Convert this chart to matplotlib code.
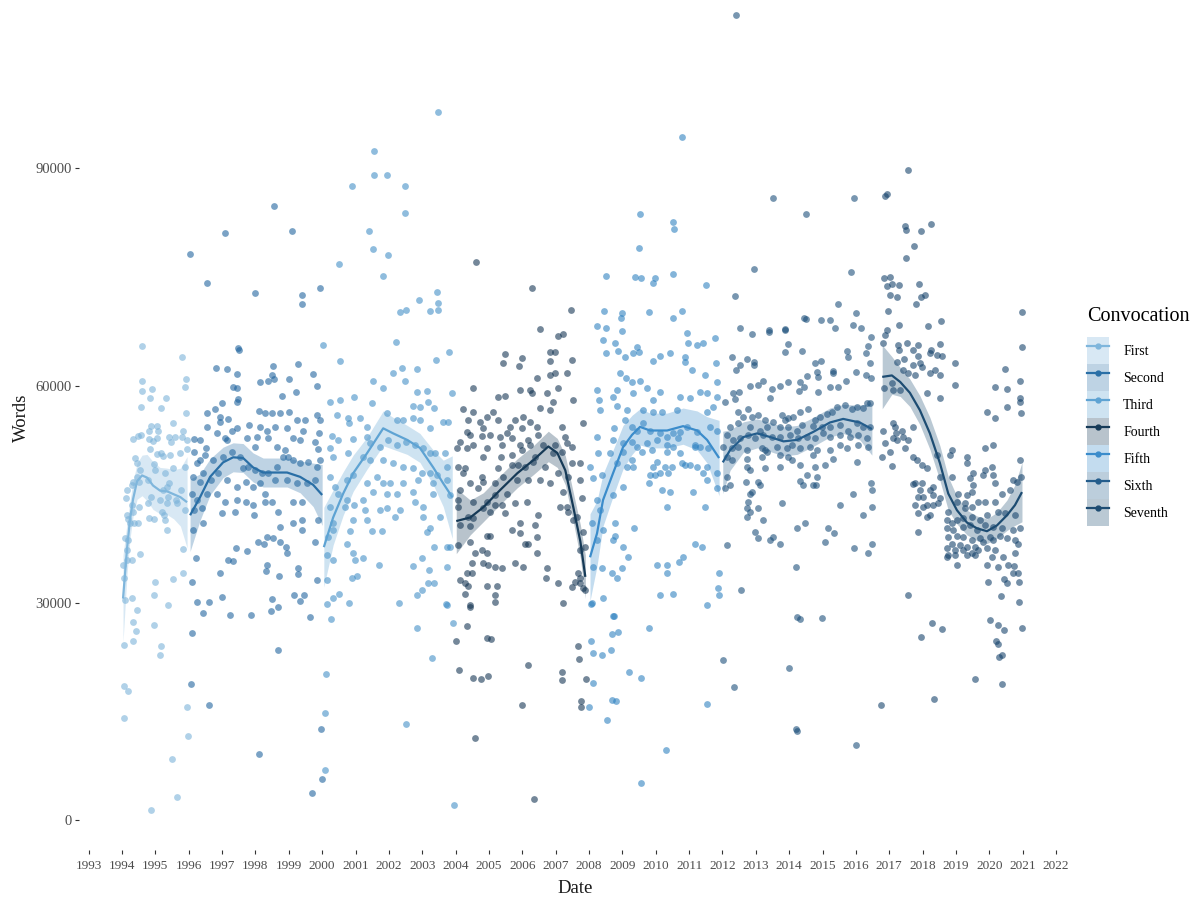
import matplotlib
matplotlib.use("Agg")
import matplotlib.pyplot as plt
from matplotlib.patches import Patch
from matplotlib.lines import Line2D
from matplotlib.colors import to_rgba

plt.rcParams['font.family'] = ['Liberation Serif', 'DejaVu Serif']

# ---------------- data (date in decimal years, words in thousands) ----------------
convocations = ["First", "Second", "Third", "Fourth", "Fifth", "Sixth", "Seventh"]

first_points = [
(1994.60,65.4),(1995.80,63.9),(1994.60,60.6),(1994.60,59.2),(1994.90,59.5),(1994.84,58.3),(1995.32,58.3),
(1994.57,57.0),(1995.17,56.9),(1995.92,60.9),(1995.89,59.8),(1995.92,56.2),(1995.53,54.8),(1994.87,54.4),
(1995.05,54.4),(1994.81,53.8),(1995.08,53.7),(1994.33,52.6),(1994.48,53.0),(1994.57,53.2),(1994.81,52.6),
(1994.93,52.3),(1995.05,52.7),(1995.41,52.9),(1995.59,52.9),(1995.83,53.7),(1995.80,52.9),(1995.95,52.5),
(1995.47,52.2),(1994.84,51.2),(1995.05,50.5),(1995.17,50.7),(1995.23,50.3),(1995.44,50.4),(1995.74,50.7),
(1995.95,51.2),(1994.39,50.0),(1994.45,49.3),(1994.96,49.2),(1994.54,48.3),(1994.99,48.3),(1995.29,48.0),
(1995.53,48.6),(1995.89,48.7),(1994.45,47.4),(1994.33,46.7),(1994.51,46.7),(1994.78,46.9),(1995.41,46.5),
(1995.35,46.0),(1995.23,45.6),(1994.15,45.6),(1994.30,46.3),(1994.12,44.5),(1994.87,44.6),(1995.14,44.2),
(1995.38,44.6),(1995.62,44.2),(1995.77,45.6),(1994.78,43.8),(1995.35,43.8),(1995.65,43.8),(1995.89,42.8),
(1994.30,43.5),(1994.33,42.5),(1994.51,43.2),(1995.20,42.5),(1995.26,42.1),(1994.15,42.1),(1994.18,41.6),
(1994.24,41.1),(1994.36,41.0),(1994.48,41.1),(1994.81,41.7),(1994.96,41.6),(1995.29,41.4),(1995.35,40.0),
(1994.09,38.9),(1994.18,38.7),(1994.15,37.3),(1994.54,36.7),(1995.83,37.4),(1994.15,35.9),(1994.30,35.9),
(1994.03,35.2),(1994.06,33.5),(1994.99,32.9),(1995.53,33.3),(1995.83,34.1),(1994.30,30.7),(1994.96,31.1),
(1994.45,29.0),(1995.38,29.7),(1994.33,27.3),(1994.96,26.9),(1994.09,30.4),(1994.42,26.1),(1994.33,24.7),
(1994.06,24.2),(1995.17,24.0),(1995.14,22.8),(1994.06,18.6),(1994.18,17.9),(1994.06,14.1),(1995.95,15.6),
(1995.98,11.7),(1995.50,8.4),(1995.65,3.2),(1994.87,1.4),
]

second_points = [
(1998.56,84.8),(1997.09,81.0),(1996.04,78.1),(1999.10,81.3),(1996.55,74.1),(1997.99,72.8),(1999.40,72.5),
(1999.40,71.2),(1999.94,73.4),(1996.82,62.4),(1997.15,62.3),(1997.48,65.2),(1997.51,64.9),(1997.45,61.6),
(1997.33,59.8),(1997.45,59.6),(1997.48,58.1),(1997.45,57.7),(1998.14,60.5),(1998.38,60.6),(1998.53,62.7),
(1998.50,61.4),(1998.56,60.9),(1999.01,60.9),(1999.28,63.0),(1999.73,61.6),(1999.85,59.9),(1998.80,58.5),
(1999.22,59.1),(1997.00,57.6),(1996.55,56.2),(1996.79,56.7),(1996.94,55.6),(1997.18,55.4),(1996.94,55.0),
(1996.55,54.3),(1996.16,52.6),(1996.34,52.5),(1996.52,51.4),(1996.85,53.4),(1997.09,52.7),(1997.15,52.5),
(1997.30,53.8),(1997.45,54.1),(1997.81,54.5),(1998.11,56.5),(1998.29,56.2),(1998.50,56.2),(1998.74,56.2),
(1999.01,56.3),(1999.25,55.2),(1999.49,55.2),(1999.85,55.9),(1999.94,55.2),(1998.14,54.3),(1998.35,53.8),
(1998.59,54.3),(1998.95,54.1),(1999.13,52.7),(1999.43,53.8),(1999.91,53.4),(1997.75,52.7),(1997.99,51.5),
(1998.05,52.9),(1998.38,52.7),(1998.65,51.5),(1998.89,51.1),(1999.34,52.5),(1999.79,52.2),(1999.88,51.2),
(1996.16,50.8),(1996.25,49.3),(1996.34,49.7),(1996.49,50.4),(1996.73,49.7),(1997.03,50.1),(1997.30,50.8),
(1997.54,50.1),(1997.63,48.6),(1997.78,48.7),(1997.99,48.3),(1998.20,48.0),(1998.38,48.0),(1998.65,48.7),
(1998.83,50.1),(1998.98,50.1),(1999.13,49.7),(1999.34,49.3),(1999.58,49.4),(1999.85,48.7),(1999.94,49.7),
(1996.13,47.4),(1996.34,46.7),(1996.43,48.0),(1996.67,46.9),(1996.88,47.9),(1997.15,46.9),(1997.45,46.0),
(1997.72,46.7),(1997.93,46.0),(1998.14,46.5),(1998.29,45.1),(1998.59,46.9),(1998.95,46.9),(1999.25,46.5),
(1999.55,46.5),(1999.79,46.9),(1996.10,45.1),(1996.25,44.2),(1996.55,45.1),(1996.85,45.1),(1997.09,43.9),
(1997.45,44.2),(1997.72,43.9),(1997.93,43.5),(1998.29,43.9),(1998.50,43.9),(1999.13,43.9),(1999.40,43.9),
(1996.16,42.8),(1996.40,43.1),(1997.00,42.4),(1997.39,42.5),(1997.96,42.1),(1998.68,42.5),(1999.13,41.1),
(1999.40,41.4),(1999.88,41.4),(1996.13,40.0),(1996.43,41.0),(1998.74,40.5),(1999.40,40.0),(1999.79,38.4),
(1998.35,39.1),(1998.53,38.9),(1998.08,38.4),(1998.74,38.4),(1998.92,37.7),(1998.26,38.2),(1997.42,37.6),
(1997.75,37.1),(1997.18,35.9),(1997.33,35.8),(1996.94,34.1),(1996.22,36.2),(1998.35,35.3),(1998.32,34.4),
(1998.71,33.7),(1998.95,36.9),(1999.28,34.8),(1999.28,34.0),(1999.85,33.1),(1996.10,32.9),(1996.25,30.1),
(1996.43,28.6),(1996.61,30.1),(1997.00,30.8),(1997.24,28.3),(1997.87,28.3),(1998.50,30.5),(1998.47,28.9),
(1998.68,29.4),(1999.16,31.1),(1999.46,31.1),(1999.34,30.2),(1999.64,28.0),(1996.10,25.8),(1998.68,23.5),
(1996.07,18.8),(1996.61,15.9),(1998.11,9.1),(1999.97,12.6),(1999.99,5.7),(1999.70,3.7),
]

third_points = [
(2003.47,97.7),(2001.56,92.4),(2001.56,89.1),(2001.95,89.1),(2000.90,87.5),(2002.49,87.5),(2002.49,83.8),
(2001.41,81.3),(2001.53,78.8),(2001.98,78.0),(2000.51,76.8),(2001.83,75.1),(2003.44,72.9),(2002.90,71.8),
(2003.47,71.4),(2003.47,70.5),(2002.52,70.5),(2002.33,70.1),(2003.23,70.3),(2000.54,63.4),(2002.22,66.0),
(2003.80,64.6),(2003.41,63.5),(2002.13,61.7),(2002.39,62.4),(2002.85,62.3),(2002.49,60.6),(2001.53,60.6),
(2001.83,59.6),(2002.85,59.1),(2003.14,59.2),(2003.89,59.0),(2002.73,57.2),(2003.17,57.8),(2003.35,56.9),
(2002.93,57.0),(2000.24,57.8),(2000.54,58.0),(2000.96,58.4),(2001.50,57.6),(2000.45,55.9),(2000.78,55.5),
(2000.81,54.8),(2001.14,55.5),(2001.35,54.3),(2001.95,56.2),(2002.25,55.2),(2002.43,55.2),(2002.73,55.5),
(2002.93,55.2),(2003.23,54.1),(2003.62,55.0),(2003.77,55.0),(2000.30,53.1),(2000.48,52.5),(2000.93,52.6),
(2001.35,52.9),(2001.44,52.1),(2001.74,51.5),(2001.98,52.5),(2002.25,51.8),(2002.52,52.2),(2002.79,51.8),
(2003.02,51.4),(2003.23,50.7),(2003.38,50.7),(2003.68,50.7),(2000.24,51.4),(2000.33,50.1),(2000.78,50.7),
(2001.23,50.1),(2001.44,49.7),(2001.83,49.7),(2002.13,49.3),(2002.43,48.7),(2002.73,48.6),(2002.99,47.9),
(2003.23,47.9),(2003.44,47.6),(2003.74,48.7),(2000.24,47.4),(2000.39,46.0),(2000.75,46.9),(2000.93,47.6),
(2001.35,46.5),(2001.65,47.4),(2001.83,46.5),(2002.04,46.5),(2002.43,46.5),(2002.87,46.9),(2003.32,46.5),
(2003.74,46.9),(2000.48,45.1),(2000.75,44.2),(2001.23,44.2),(2001.53,45.3),(2001.95,45.1),(2002.25,45.1),
(2002.73,45.3),(2003.32,45.1),(2003.83,44.9),(2000.24,43.2),(2000.69,43.2),(2000.96,43.5),(2001.29,42.8),
(2001.95,43.1),(2002.33,42.8),(2002.79,43.9),(2003.02,43.2),(2000.33,41.1),(2000.93,41.4),(2001.35,41.4),
(2001.74,42.8),(2002.19,41.8),(2003.02,41.8),(2003.23,40.3),(2003.53,41.8),(2000.18,39.1),(2000.33,40.0),
(2000.84,39.9),(2001.50,39.9),(2001.80,39.9),(2003.14,39.8),(2003.83,37.7),(2000.75,38.2),(2003.35,37.7),
(2003.74,37.7),(2000.15,36.6),(2000.33,35.9),(2000.93,36.9),(2000.99,35.9),(2001.23,36.2),(2001.71,35.2),
(2002.73,35.1),(2002.99,36.2),(2003.20,34.5),(2003.74,34.9),(2000.15,33.1),(2000.90,33.4),(2001.05,33.7),
(2003.17,32.7),(2002.85,31.1),(2002.99,31.8),(2003.35,32.7),(2000.15,29.8),(2000.33,30.7),(2000.51,31.3),
(2000.81,30.0),(2002.31,30.0),(2003.74,29.7),(2000.27,27.8),(2002.85,26.5),(2003.29,22.4),(2003.71,29.8),
(2003.92,27.2),(2002.52,13.3),(2000.09,14.8),(2000.12,20.2),(2000.09,6.9),(2003.95,2.1),(2000.03,65.6),
]

fourth_points = [
(2004.62,77.0),(2006.29,73.4),(2007.46,70.4),(2006.53,67.8),(2007.07,66.8),(2007.22,67.1),(2005.48,64.3),
(2005.42,63.1),(2005.99,63.8),(2005.90,62.7),(2006.83,64.6),(2006.98,64.6),(2006.83,63.4),(2007.49,63.5),
(2006.44,61.0),(2006.98,61.7),(2006.83,61.4),(2007.34,61.7),(2007.07,59.6),(2004.52,59.6),(2005.27,58.4),
(2005.48,58.5),(2005.93,59.4),(2006.23,59.4),(2006.29,59.0),(2006.74,59.0),(2006.92,57.7),(2007.52,58.0),
(2006.53,56.9),(2006.83,56.6),(2004.22,56.7),(2004.52,56.3),(2005.12,56.3),(2006.02,55.6),(2006.23,55.0),
(2005.78,55.2),(2004.37,55.2),(2004.74,55.0),(2004.94,55.6),(2005.27,55.2),(2007.19,54.3),(2007.82,54.8),
(2005.63,54.3),(2005.99,54.1),(2006.44,54.3),(2006.47,53.2),(2004.82,54.1),(2004.34,53.6),(2004.43,53.2),
(2004.79,53.0),(2005.03,53.2),(2005.33,52.9),(2005.54,53.4),(2005.69,52.7),(2006.17,52.5),(2007.28,52.9),
(2004.13,52.2),(2004.52,51.8),(2004.94,51.4),(2005.39,51.8),(2005.93,51.8),(2006.23,51.8),(2006.62,51.8),
(2006.98,51.8),(2007.34,52.1),(2004.04,51.4),(2004.34,51.4),(2004.82,50.1),(2005.36,50.1),(2005.69,50.4),
(2005.99,51.1),(2006.38,50.1),(2006.92,50.7),(2007.19,50.8),(2007.49,51.5),(2004.07,48.7),(2004.28,48.6),
(2004.22,47.9),(2004.79,47.4),(2005.27,48.6),(2005.69,49.0),(2006.08,48.7),(2005.87,49.0),(2006.32,49.4),
(2006.68,48.7),(2007.07,48.0),(2007.49,49.3),(2007.73,49.3),(2004.43,46.5),(2004.82,46.7),(2005.18,46.5),
(2005.42,47.4),(2005.84,46.9),(2006.17,46.9),(2006.53,46.9),(2006.83,46.5),(2007.37,47.4),(2007.73,46.9),
(2004.13,45.6),(2004.68,45.8),(2005.18,44.9),(2005.54,45.1),(2006.14,43.9),(2007.22,45.3),(2004.07,44.2),
(2004.52,43.9),(2004.94,43.9),(2005.18,43.5),(2005.39,43.5),(2005.78,43.8),(2004.07,43.2),(2004.82,43.1),
(2004.37,41.8),(2004.52,41.7),(2005.03,42.5),(2005.48,42.4),(2004.13,40.7),(2004.43,40.6),(2007.13,43.2),
(2007.37,42.5),(2007.34,43.2),(2007.64,41.8),(2007.52,41.4),(2007.79,44.5),(2005.93,41.1),(2006.47,42.1),
(2006.38,40.7),(2005.69,40.0),(2005.93,39.6),(2006.08,38.2),(2006.17,38.2),(2006.44,39.1),(2004.07,38.0),
(2004.43,38.4),(2004.94,39.3),(2005.03,39.3),(2004.58,36.9),(2004.79,37.3),(2004.94,36.9),(2007.82,39.8),
(2007.88,37.7),(2007.73,37.3),(2005.78,35.5),(2006.02,34.9),(2006.44,36.9),(2004.49,35.5),(2004.82,35.5),
(2004.97,35.2),(2005.18,34.9),(2005.39,34.8),(2004.34,34.1),(2004.49,34.1),(2004.13,33.1),(2004.28,32.7),
(2004.37,32.4),(2004.94,32.4),(2005.24,32.4),(2005.18,31.1),(2004.28,31.3),(2004.43,29.7),(2006.74,34.8),
(2006.71,33.4),(2007.07,32.7),(2007.22,30.0),(2007.49,32.2),(2007.67,34.1),(2007.73,33.4),(2007.73,32.7),
(2007.82,32.0),(2007.88,31.8),(2007.58,32.9),(2004.43,29.5),(2005.18,30.1),(2004.34,26.8),(2004.01,24.7),
(2004.94,25.1),(2005.06,25.0),(2004.10,20.8),(2004.52,19.7),(2004.76,19.5),(2004.97,19.9),(2006.17,21.4),
(2007.19,20.4),(2007.19,19.3),(2005.99,15.9),(2004.58,11.3),(2006.35,3.0),(2007.67,24.0),(2007.70,22.2),
(2007.91,19.5),(2007.76,16.4),(2007.76,15.7),
]

fifth_points = [
(2010.79,94.3),(2009.53,83.7),(2010.52,82.6),(2010.55,81.6),(2009.50,79.0),(2008.51,75.1),(2009.38,75.0),
(2009.56,74.8),(2009.98,74.8),(2009.92,74.1),(2010.52,75.4),(2011.51,73.9),(2008.45,70.3),(2008.99,70.0),
(2008.96,69.3),(2009.80,70.1),(2010.52,69.3),(2010.79,70.3),(2008.24,68.2),(2008.51,67.9),(2008.99,67.5),
(2008.43,66.3),(2008.78,65.9),(2008.87,64.8),(2009.08,63.9),(2008.51,64.5),(2009.32,64.5),(2009.50,64.6),
(2009.44,65.3),(2009.92,63.4),(2010.13,64.1),(2010.43,64.5),(2010.94,67.2),(2010.97,65.9),(2010.88,63.9),
(2010.88,63.2),(2011.24,65.6),(2011.42,65.9),(2011.78,66.5),(2011.09,62.1),(2011.48,61.4),(2011.81,63.1),
(2011.84,60.5),(2008.93,61.7),(2009.11,61.0),(2009.29,60.5),(2009.53,60.7),(2008.84,59.4),(2009.32,59.0),
(2009.74,59.6),(2010.13,59.1),(2009.92,58.0),(2008.24,59.4),(2008.31,58.0),(2008.72,58.4),(2010.73,58.4),
(2011.03,58.3),(2011.33,59.1),(2011.54,59.0),(2011.84,58.4),(2008.33,56.6),(2008.84,57.2),(2009.14,56.6),
(2009.62,56.6),(2009.92,56.3),(2010.19,56.3),(2010.64,56.6),(2011.54,56.3),(2011.72,57.0),(2008.24,52.9),
(2008.75,54.1),(2009.08,55.2),(2009.29,54.3),(2009.44,53.8),(2009.62,54.8),(2009.83,53.8),(2010.13,53.4),
(2010.34,52.9),(2010.52,53.4),(2010.73,53.6),(2010.94,54.3),(2011.24,53.6),(2011.63,54.3),(2011.84,53.8),
(2008.72,52.5),(2009.02,52.1),(2009.29,52.2),(2009.44,51.5),(2009.74,52.1),(2010.04,52.5),(2010.34,51.8),
(2010.52,51.5),(2010.67,52.7),(2011.18,51.8),(2011.33,51.5),(2011.57,51.4),(2008.27,50.7),(2008.63,50.7),
(2009.02,50.8),(2009.29,49.7),(2009.59,50.8),(2009.89,51.1),(2010.34,50.8),(2010.73,50.7),(2011.18,51.5),
(2008.84,49.3),(2009.14,48.7),(2009.32,48.7),(2010.04,49.4),(2009.92,48.7),(2010.28,48.7),(2010.49,48.7),
(2010.79,49.3),(2010.88,49.0),(2011.03,49.0),(2011.24,48.7),(2011.54,48.7),(2011.84,47.9),(2008.03,48.7),
(2008.12,47.2),(2008.39,47.6),(2009.83,47.6),(2009.98,47.6),(2010.13,47.9),(2010.37,47.9),(2011.42,48.0),
(2011.54,46.9),(2009.02,46.0),(2009.80,46.5),(2010.19,45.6),(2010.43,45.3),(2011.12,45.3),(2011.84,45.8),
(2008.24,44.2),(2008.33,42.8),(2008.72,44.9),(2010.34,43.2),(2011.48,43.2),(2008.09,41.1),(2008.78,41.1),
(2009.35,40.3),(2008.43,40.0),(2008.24,38.7),(2008.78,39.3),(2009.02,37.7),(2008.72,38.7),(2011.18,38.2),
(2011.39,37.7),(2008.12,34.9),(2008.39,34.8),(2008.69,34.2),(2008.84,33.5),(2008.99,34.8),(2009.17,36.3),
(2010.04,35.3),(2010.34,35.3),(2010.70,35.6),(2010.82,36.3),(2010.34,34.1),(2011.90,34.1),(2010.13,31.1),
(2010.52,31.3),(2011.87,32.0),(2011.90,31.1),(2008.09,30.0),(2008.43,30.7),(2008.72,28.2),(2011.54,29.7),
(2008.06,29.8),(2008.75,28.2),(2008.69,25.7),(2008.87,26.0),(2008.06,24.7),(2008.12,23.1),(2008.39,22.8),
(2008.66,23.5),(2009.20,20.4),(2009.56,19.7),(2008.12,18.9),(2008.69,16.6),(2008.81,16.4),(2008.01,15.7),
(2008.54,13.9),(2009.80,26.6),(2011.54,16.0),(2010.31,9.7),(2009.56,5.1),
]

sixth_points = [
(2012.41,111.1),(2013.52,85.9),(2014.51,83.7),(2012.95,76.1),(2012.38,72.3),(2015.86,75.7),(2015.95,85.9),
(2015.47,71.2),(2016.01,70.0),(2015.92,68.3),(2016.15,67.9),(2014.95,69.0),(2015.22,69.0),(2014.45,69.3),
(2014.51,69.2),(2015.38,67.9),(2013.88,67.8),(2013.40,67.7),(2012.53,67.9),(2012.29,63.9),(2012.89,67.1),
(2012.95,63.2),(2012.95,62.9),(2012.41,62.1),(2012.53,62.9),(2012.74,63.7),(2013.40,67.4),(2013.88,67.7),
(2013.97,65.8),(2013.88,64.6),(2014.39,64.8),(2014.78,63.1),(2014.95,63.4),(2014.84,61.9),(2014.87,61.2),
(2015.31,62.0),(2015.31,61.7),(2015.74,64.8),(2015.77,64.0),(2016.31,64.5),(2016.37,65.4),(2016.46,66.7),
(2016.43,63.1),(2016.31,61.4),(2016.46,61.0),(2016.01,61.9),(2015.71,60.6),(2015.47,59.8),(2015.22,59.8),
(2014.87,59.1),(2014.54,61.3),(2014.33,60.5),(2014.30,59.2),(2014.45,59.8),(2013.97,60.5),(2013.73,59.9),
(2013.49,59.5),(2013.43,58.3),(2013.22,60.7),(2013.07,60.1),(2012.83,59.9),(2012.50,59.1),(2012.32,59.0),
(2012.38,58.1),(2012.08,57.8),(2012.47,56.3),(2012.77,56.8),(2012.62,55.6),(2012.89,55.6),(2013.07,55.9),
(2013.28,55.2),(2013.52,55.0),(2013.79,55.9),(2013.88,55.2),(2013.97,55.5),(2014.12,55.6),(2014.33,56.3),
(2014.57,56.8),(2014.78,55.2),(2014.93,55.6),(2015.13,56.1),(2015.28,56.3),(2015.44,57.0),(2015.68,57.3),
(2015.89,56.7),(2016.04,57.0),(2016.22,56.9),(2016.34,57.6),(2016.43,57.6),(2012.23,54.3),(2012.47,54.8),
(2012.83,54.3),(2013.13,53.8),(2013.34,54.3),(2013.73,54.3),(2013.97,54.3),(2014.24,53.8),(2014.39,54.5),
(2014.72,54.4),(2014.98,54.3),(2015.22,54.3),(2015.53,54.5),(2015.77,53.8),(2016.04,54.8),(2016.22,54.3),
(2016.43,54.3),(2012.14,53.2),(2012.32,52.5),(2012.53,52.7),(2012.77,53.2),(2012.98,52.7),(2013.22,53.2),
(2013.49,52.9),(2013.73,52.9),(2014.03,53.2),(2014.27,52.7),(2014.54,52.9),(2014.78,52.7),(2015.01,53.4),
(2015.22,52.9),(2015.53,53.2),(2015.83,52.9),(2016.07,53.2),(2016.34,52.7),(2012.02,51.5),(2012.29,51.4),
(2012.47,51.5),(2012.74,51.1),(2013.19,51.4),(2013.34,50.8),(2013.64,51.5),(2013.94,51.4),(2014.09,51.8),
(2014.33,51.4),(2014.63,51.5),(2014.84,51.1),(2015.22,51.1),(2015.53,51.8),(2015.74,51.4),(2016.07,51.8),
(2016.37,51.5),(2012.14,50.1),(2012.29,49.7),(2012.74,49.8),(2013.19,50.1),(2013.28,51.1),(2013.73,50.4),
(2013.97,50.1),(2014.09,49.7),(2014.72,50.4),(2015.07,49.0),(2015.31,49.8),(2016.04,49.4),(2012.74,48.7),
(2012.83,48.3),(2013.28,48.6),(2013.73,48.7),(2014.33,49.0),(2014.54,47.6),(2014.78,48.7),(2014.84,47.4),
(2012.14,47.4),(2012.08,45.8),(2012.23,46.3),(2012.71,46.7),(2013.07,46.7),(2013.13,46.3),(2014.33,46.8),
(2014.42,46.3),(2014.72,46.3),(2014.81,46.3),(2016.46,46.5),(2016.49,45.6),(2012.83,45.1),(2012.89,45.3),
(2012.77,43.9),(2012.74,43.1),(2012.74,41.8),(2012.83,42.5),(2013.07,43.1),(2013.79,43.8),(2013.22,41.4),
(2012.98,39.8),(2013.07,38.9),(2013.43,38.7),(2013.52,39.1),(2013.73,38.1),(2014.24,40.4),(2014.48,41.1),
(2015.16,40.3),(2015.35,39.6),(2015.07,38.4),(2015.53,43.5),(2015.92,45.0),(2016.22,42.2),(2016.49,43.2),
(2015.95,37.6),(2016.37,36.9),(2016.49,38.2),(2012.14,38.0),(2014.21,34.9),(2012.56,31.8),(2014.24,28.0),
(2014.33,27.8),(2014.98,27.9),(2012.01,22.1),(2012.35,18.4),(2014.00,21.0),(2014.24,12.3),(2014.21,12.6),
(2016.01,10.4),
]

seventh_points = [
(2016.87,86.1),(2016.93,86.4),(2017.56,89.7),(2017.47,82.0),(2017.50,81.5),(2017.95,81.3),(2018.25,82.3),
(2017.74,79.2),(2017.50,77.6),(2016.84,74.8),(2017.02,75.0),(2016.93,73.7),(2017.08,74.0),(2017.29,73.9),
(2017.89,74.0),(2017.02,72.5),(2017.23,72.2),(2017.95,72.2),(2018.07,72.5),(2017.80,71.2),(2016.96,70.3),
(2017.29,68.3),(2018.16,68.2),(2018.55,68.9),(2020.98,70.1),(2016.93,67.7),(2016.87,67.0),(2016.81,65.9),
(2017.26,65.6),(2017.53,65.9),(2017.86,65.6),(2017.29,64.9),(2017.71,64.9),(2017.86,64.1),(2018.22,64.5),
(2018.43,64.2),(2018.52,65.7),(2018.58,64.1),(2018.25,64.9),(2017.44,63.6),(2017.23,63.2),(2017.71,62.8),
(2017.92,63.1),(2017.98,62.5),(2018.22,61.7),(2018.37,62.1),(2018.52,61.4),(2017.77,61.4),(2017.41,62.1),
(2017.56,61.7),(2018.97,63.1),(2016.84,59.6),(2017.08,60.3),(2017.32,59.4),(2017.11,59.4),(2018.13,59.0),
(2018.52,58.3),(2018.97,60.1),(2020.47,62.3),(2020.53,59.5),(2020.98,65.3),(2020.92,60.7),(2020.92,58.3),
(2020.92,57.7),(2020.95,56.2),(2020.53,57.0),(2020.17,59.8),(2016.81,53.8),(2017.11,54.8),(2017.17,54.3),
(2017.38,53.8),(2017.20,53.4),(2017.41,52.9),(2017.11,52.7),(2017.23,52.5),(2017.56,52.5),(2017.71,54.3),
(2016.87,52.1),(2017.02,50.8),(2017.47,51.4),(2017.71,50.1),(2016.78,50.1),(2017.08,48.9),(2017.83,49.7),
(2017.98,49.0),(2018.13,48.6),(2018.43,50.4),(2018.82,50.4),(2018.88,51.1),(2019.33,50.1),(2019.33,49.3),
(2019.87,51.4),(2020.11,51.8),(2019.93,56.3),(2020.17,55.5),(2017.77,46.5),(2017.71,46.4),(2017.92,45.6),
(2018.22,45.6),(2018.31,44.9),(2018.01,44.6),(2017.86,44.6),(2018.52,44.5),(2018.46,43.8),(2018.31,43.5),
(2018.13,43.5),(2018.01,43.2),(2017.77,43.5),(2018.22,42.1),(2018.13,41.8),(2017.86,42.4),(2017.98,46.5),
(2018.31,46.0),(2018.52,47.4),(2018.88,47.4),(2019.06,45.1),(2019.03,43.9),(2019.33,44.9),(2019.27,43.8),
(2019.48,45.3),(2019.51,46.3),(2019.42,47.2),(2019.51,47.9),(2019.81,47.6),(2019.87,48.3),(2020.08,48.7),
(2020.11,47.6),(2020.17,46.5),(2020.38,45.1),(2020.62,45.6),(2020.71,46.9),(2020.83,46.7),(2020.95,47.4),
(2020.92,49.7),(2020.17,43.9),(2019.87,43.9),(2019.66,43.9),(2019.48,43.2),(2019.27,43.1),(2018.76,42.5),
(2018.73,41.4),(2018.88,41.0),(2019.03,41.4),(2019.21,41.7),(2019.48,41.8),(2019.72,41.4),(2019.93,42.1),
(2020.26,42.5),(2020.47,42.4),(2020.77,42.1),(2018.73,40.3),(2018.91,40.0),(2019.21,40.5),(2019.42,40.7),
(2019.63,40.0),(2019.87,40.7),(2020.11,40.5),(2020.38,40.3),(2020.71,40.0),(2020.92,40.3),(2018.76,39.1),
(2019.03,39.3),(2019.21,39.1),(2019.48,38.7),(2019.72,38.9),(2020.02,39.1),(2020.32,39.3),(2018.88,38.2),
(2019.12,38.0),(2019.33,37.7),(2019.57,37.7),(2019.81,38.4),(2020.11,38.7),(2020.53,38.9),(2020.77,38.7),
(2018.73,37.6),(2018.97,37.3),(2019.21,37.3),(2019.48,36.9),(2019.66,37.3),(2019.93,37.6),(2020.17,37.3),
(2018.76,36.6),(2018.73,36.3),(2018.97,36.6),(2019.33,36.6),(2019.57,36.6),(2020.08,36.3),(2020.41,36.3),
(2020.77,36.9),(2020.86,38.2),(2019.03,35.2),(2019.93,35.2),(2020.26,34.9),(2020.56,35.2),(2020.74,35.1),
(2020.71,34.1),(2020.86,34.1),(2020.44,33.3),(2020.53,32.7),(2020.89,32.9),(2019.96,32.9),(2020.35,30.9),
(2020.89,30.1),(2017.86,39.8),(2017.56,31.1),(2017.95,25.3),(2018.28,27.2),(2018.58,26.4),(2018.34,16.8),
(2019.57,19.5),(2020.02,27.6),(2020.26,26.9),(2020.44,26.2),(2020.20,24.7),(2020.26,24.3),(2020.38,22.8),
(2020.29,22.6),(2020.38,18.8),(2020.98,26.5),(2016.75,15.9),
]

# smoothed trend (loess): date, fit (thousands), half-width of band
first_sm_date = [1994.03, 1994.15, 1994.24, 1994.33, 1994.45, 1994.60, 1994.75, 1994.93, 1995.14, 1995.35, 1995.55, 1995.75, 1995.95]
first_sm_fit = [30.6, 37.5, 41.5, 44.3, 46.8, 47.6, 47.3, 46.2, 45.5, 45.4, 45.0, 44.6, 43.9]
first_sm_hw = [6.0, 3.5, 2.6, 2.4, 2.5, 2.8, 3.2, 3.3, 3.2, 3.2, 3.4, 4.0, 6.3]

second_sm_date = [1996.04, 1996.34, 1996.64, 1997.03, 1997.33, 1997.63, 1997.93, 1998.23, 1998.53, 1998.95, 1999.34, 1999.73, 2000.0]
second_sm_fit = [42.1, 44.6, 47.4, 49.4, 50.1, 50.0, 48.7, 48.0, 48.0, 48.0, 47.4, 46.3, 44.9]
second_sm_hw = [5.0, 3.2, 2.5, 2.1, 2.0, 2.0, 2.0, 2.0, 2.0, 2.0, 2.2, 3.0, 4.2]

third_sm_date = [2000.05, 2000.33, 2000.63, 2000.93, 2001.35, 2001.83, 2002.13, 2002.55, 2002.93, 2003.33, 2003.63, 2003.90]
third_sm_fit = [37.7, 41.8, 45.1, 47.9, 50.7, 54.1, 53.4, 52.5, 51.4, 48.7, 46.5, 44.6]
third_sm_hw = [5.5, 3.8, 3.0, 2.5, 2.2, 2.4, 2.2, 2.0, 2.0, 2.4, 3.2, 5.7]

fourth_sm_date = [2004.02, 2004.44, 2004.83, 2005.34, 2005.85, 2006.33, 2006.78, 2007.05, 2007.29, 2007.53, 2007.74, 2007.89]
fourth_sm_fit = [41.3, 41.8, 43.2, 45.6, 47.9, 49.7, 51.6, 50.7, 48.3, 43.2, 38.5, 33.6]
fourth_sm_hw = [4.5, 2.4, 2.0, 2.0, 2.0, 2.0, 2.1, 2.0, 2.0, 2.0, 2.3, 3.0]

fifth_sm_date = [2008.03, 2008.24, 2008.42, 2008.72, 2009.02, 2009.29, 2009.53, 2009.83, 2010.34, 2010.82, 2011.24, 2011.54, 2011.90]
fifth_sm_fit = [36.3, 39.6, 44.2, 47.9, 51.5, 53.2, 54.3, 53.8, 53.8, 54.4, 53.8, 52.5, 50.0]
fifth_sm_hw = [6.0, 4.5, 3.6, 3.2, 3.0, 2.7, 2.5, 2.4, 2.4, 2.5, 2.7, 3.2, 5.2]

sixth_sm_date = [2012.01, 2012.23, 2012.63, 2013.04, 2013.43, 2013.83, 2014.24, 2014.72, 2015.22, 2015.62, 2016.12, 2016.48]
sixth_sm_fit = [49.4, 51.1, 52.9, 53.4, 52.9, 52.3, 52.5, 53.6, 54.9, 55.4, 54.9, 54.0]
sixth_sm_hw = [4.3, 2.8, 2.1, 2.0, 2.0, 2.0, 2.0, 2.0, 2.0, 2.0, 2.4, 3.6]

seventh_sm_date = [2016.79, 2017.08, 2017.33, 2017.62, 2017.92, 2018.22, 2018.52, 2018.77, 2019.03, 2019.33, 2019.63, 2019.93, 2020.23, 2020.53, 2020.77, 2020.98]
seventh_sm_fit = [61.2, 61.4, 60.5, 59.0, 56.6, 53.4, 49.3, 45.1, 42.8, 41.1, 40.3, 39.9, 40.7, 42.1, 43.5, 45.3]
seventh_sm_hw = [4.4, 2.6, 2.0, 1.9, 2.0, 2.2, 2.4, 2.3, 1.9, 1.7, 1.7, 1.7, 1.8, 2.1, 2.8, 4.1]

x_ticks = list(range(1993, 2023))
y_ticks = [0, 30000, 60000, 90000]

# ---------------- styling ----------------
point_colors = ['#77b0d8', '#1a609c', '#3e8dc6', '#0f3150', '#297ebf', '#164b78', '#103e68']
line_colors = ['#7fb6dc', '#2a6fa6', '#5ea3d3', '#163a57', '#3b8ccb', '#245d8c', '#1d4c72']

points = [first_points, second_points, third_points, fourth_points, fifth_points, sixth_points, seventh_points]
smooths = [
    (first_sm_date, first_sm_fit, first_sm_hw),
    (second_sm_date, second_sm_fit, second_sm_hw),
    (third_sm_date, third_sm_fit, third_sm_hw),
    (fourth_sm_date, fourth_sm_fit, fourth_sm_hw),
    (fifth_sm_date, fifth_sm_fit, fifth_sm_hw),
    (sixth_sm_date, sixth_sm_fit, sixth_sm_hw),
    (seventh_sm_date, seventh_sm_fit, seventh_sm_hw),
]

W, H = 1203, 897
fig = plt.figure(figsize=(W / 100, H / 100), dpi=100)
ax = fig.add_axes([79 / W, (H - 850) / H, (1065 - 79) / W, (850 + 24.5) / H])

for pts, col in zip(points, point_colors):
    xs = [p[0] for p in pts]
    ys = [p[1] * 1000 for p in pts]
    ax.scatter(xs, ys, s=24, color=col, alpha=0.58, linewidths=0, zorder=1)

for (d, f, hw), col in zip(smooths, line_colors):
    lo = [(a - b) * 1000 for a, b in zip(f, hw)]
    hi = [(a + b) * 1000 for a, b in zip(f, hw)]
    ax.fill_between(d, lo, hi, color=col, alpha=0.3, linewidth=0, zorder=2)
    ax.plot(d, [v * 1000 for v in f], color=col, lw=1.6, zorder=3, solid_capstyle='butt')

ax.set_xlim(1992.71, 2022.27)
ax.set_ylim(-4100, 116600)
ax.set_xticks(x_ticks)
ax.set_xticklabels([str(t) for t in x_ticks])
ax.set_yticks(y_ticks)
ax.set_yticklabels([str(t) for t in y_ticks])
for s in ax.spines.values():
    s.set_visible(False)
ax.tick_params(axis='both', length=3, width=0.8, color='#333333', labelcolor='#4d4d4d',
               labelsize=9.5, pad=2)
ax.tick_params(axis='y', labelsize=10.5)
ax.tick_params(axis='x', pad=4)
ax.set_xlabel('Date', fontsize=13.5, color='#1a1a1a')
ax.set_ylabel('Words', fontsize=13.5, color='#1a1a1a')
ax.xaxis.set_label_coords(0.503, -0.034)
ax.yaxis.set_label_coords(-0.050, 0.494)

handles = []
for lc in line_colors:
    band = to_rgba(lc, 0.3)
    handles.append((Patch(facecolor=band, edgecolor='none'),
                    Line2D([], [], color=lc, lw=1.6, marker='o', markersize=3.5)))
leg = fig.legend(handles, convocations, loc='upper left',
                 bbox_to_anchor=(1087 / W, 1 - 307 / H), bbox_transform=fig.transFigure,
                 frameon=False, fontsize=10, title='Convocation', title_fontsize=14.5,
                 handlelength=1.6, handleheight=2.61, labelspacing=0, handletextpad=1.0,
                 borderpad=0, borderaxespad=0)
leg._legend_box.align = 'left'
leg._legend_box.sep = 8

fig.savefig('out.png', dpi=100)
